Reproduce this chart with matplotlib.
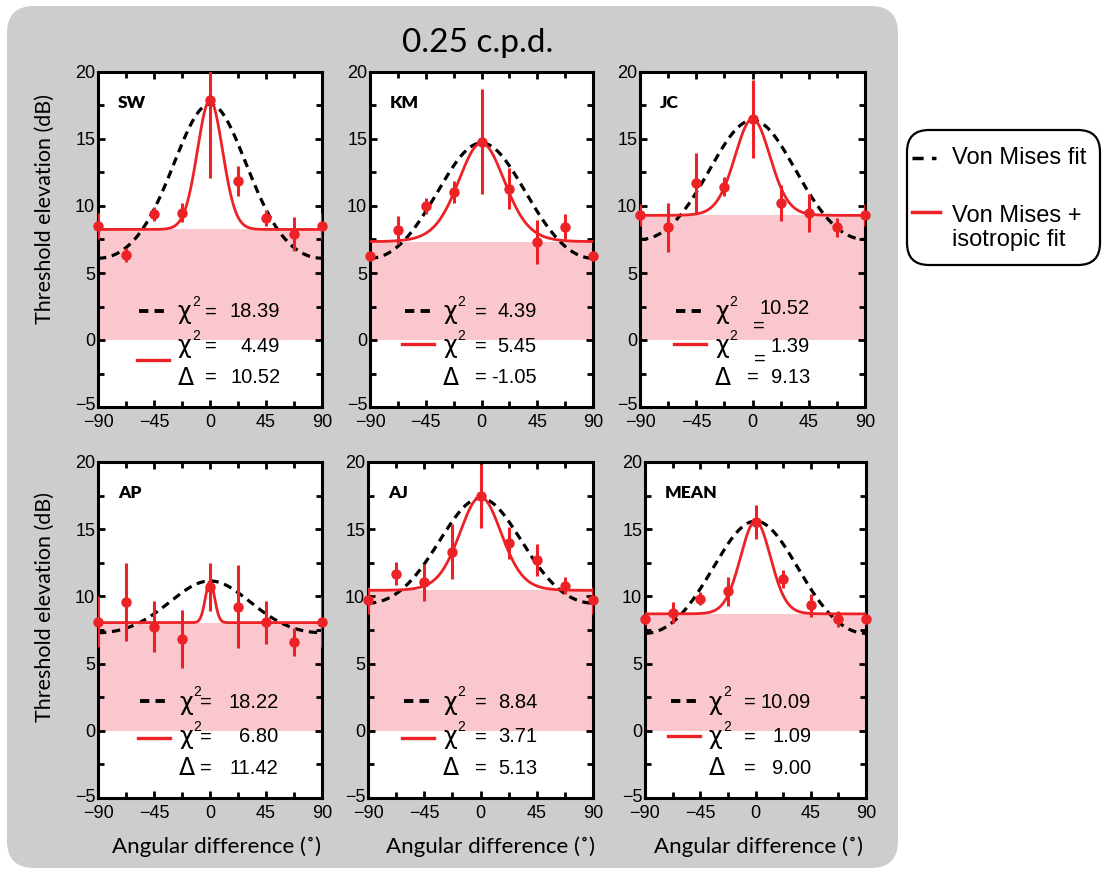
import numpy as np
import matplotlib
matplotlib.use("Agg")
import matplotlib.pyplot as plt
from matplotlib.patches import FancyBboxPatch
from matplotlib.lines import Line2D
from matplotlib.transforms import ScaledTranslation

# ---------------- data ----------------
angles = [-90, -67.5, -45, -22.5, 0, 22.5, 45, 67.5, 90]
names = ["SW", "KM", "JC", "AP", "AJ", "MEAN"]

sw_y = [8.5, 6.35, 9.4, 9.5, 17.9, 11.85, 9.1, 7.9, 8.5]
sw_err = [1.0, 0.5, 0.55, 0.7, 5.8, 1.1, 0.6, 1.25, 1.0]
km_y = [6.3, 8.2, 10.0, 11.05, 14.8, 11.3, 7.33, 8.47, 6.3]
km_err = [0.3, 1.05, 0.6, 0.85, 3.9, 1.5, 1.65, 0.9, 0.3]
jc_y = [9.33, 8.4, 11.7, 11.43, 16.47, 10.25, 9.46, 8.4, 9.33]
jc_err = [0.8, 1.8, 2.25, 0.7, 2.9, 1.35, 1.4, 0.7, 0.8]
ap_y = [8.1, 9.55, 7.75, 6.83, 10.7, 9.23, 8.07, 6.63, 8.1]
ap_err = [1.9, 2.9, 1.9, 2.15, 1.8, 3.1, 1.6, 1.05, 1.9]
aj_y = [9.7, 11.68, 11.04, 13.33, 17.48, 13.95, 12.72, 10.8, 9.7]
aj_err = [1.0, 0.85, 1.4, 2.05, 2.4, 1.2, 1.2, 0.65, 1.0]
mean_y = [8.35, 8.8, 9.83, 10.37, 15.53, 11.3, 9.34, 8.3, 8.35]
mean_err = [0.5, 0.75, 0.5, 1.05, 1.25, 0.7, 0.85, 0.6, 0.5]

values = [sw_y, km_y, jc_y, ap_y, aj_y, mean_y]
errors = [sw_err, km_err, jc_err, ap_err, aj_err, mean_err]

# von Mises fit parameters
vm_peak = [17.6, 14.7, 16.4, 11.15, 17.3, 15.6]
vm_trough = [6.1, 6.1, 7.5, 7.3, 9.5, 7.25]
vm_kappa = [0.77, 0.38, 0.43, 0.56, 0.52, 0.42]
# von Mises + isotropic fit parameters
iso_base = [8.25, 7.35, 9.3, 8.05, 10.45, 8.7]
iso_peak = [17.9, 14.7, 16.5, 11.1, 17.4, 15.6]
iso_kappa = [8.0, 2.4, 4.2, 60.0, 3.0, 5.5]

chi_vm = [18.39, 4.39, 10.52, 18.22, 8.84, 10.09]
chi_iso = [4.49, 5.45, 1.39, 6.80, 3.71, 1.09]
delta = [10.52, -1.05, 9.13, 11.42, 5.13, 9.00]

title = "0.25 c.p.d."
ylabel = "Threshold elevation (dB)"
xlabel = "Angular difference (\u02DA)"
legend_labels = ["Von Mises fit", "Von Mises +\nisotropic fit"]


def von_mises(theta, trough, peak, kappa):
    c = np.cos(2 * np.radians(theta))
    g = (np.exp(kappa * (c - 1)) - np.exp(-2 * kappa)) / (1 - np.exp(-2 * kappa))
    return trough + (peak - trough) * g


# ---------------- style ----------------
RED = "#EC2227"
PINK = "#F9C7CD"
GRAY = "#CDCDCD"
FONT = ["Liberation Sans", "DejaVu Sans"]
LFONT = ["Lato", "DejaVu Sans"]
plt.rcParams["font.family"] = FONT

W, H = 1103, 873
fig = plt.figure(figsize=(W / 100, H / 100), dpi=100)
fig.patch.set_facecolor("white")

# gray rounded background
bg = FancyBboxPatch((0.07, 0.05), 8.91, 8.62,
                    boxstyle="round,pad=0,rounding_size=0.27",
                    transform=fig.dpi_scale_trans, facecolor=GRAY,
                    edgecolor="none", zorder=-10)
fig.patches.append(bg)

# axes rectangles in pixel coords: (left, top, right, bottom)
boxes = [(98, 72, 322, 407), (370, 72, 593, 407), (640, 72, 865, 407),
         (98, 462, 322, 798), (368, 462, 593, 798), (645, 462, 866, 798)]

# legend layout per panel
chi_x = [-26, -31, -30, -25, -30, -38]
eq_x = [-4, -5, -4, -8, -4, -9]
val_end = [56.5, 44.5, 45.8, 55, 45.4, 45.4]
red_sample_y = [-1.5, -0.3, -0.3, -0.5, -0.5, -0.4]
rows_y = [2.1, -0.45, -2.8]

theta = np.linspace(-90, 90, 721)

for i, (l, t, r, b) in enumerate(boxes):
    ax = fig.add_axes([l / W, 1 - b / H, (r - l) / W, (b - t) / H])
    ax.set_xlim(-90, 90)
    ax.set_ylim(-5, 20)
    ax.axhspan(0, iso_base[i], color=PINK, lw=0, zorder=0)
    ax.plot(theta, von_mises(theta, vm_trough[i], vm_peak[i], vm_kappa[i]),
            color="black", lw=2.3, dashes=(2.6, 1.8), zorder=3)
    ax.plot(theta, von_mises(theta, iso_base[i], iso_peak[i], iso_kappa[i]),
            color=RED, lw=2.0, zorder=4)
    ax.errorbar(angles, values[i], yerr=errors[i], fmt="none", ecolor=RED,
                elinewidth=2.2, capsize=0, zorder=5)
    ax.plot(angles, values[i], "o", color=RED, ms=6.5, zorder=6,
            clip_on=False)

    ax.set_xticks([-90, -45, 0, 45, 90])
    ax.set_xticks([-67.5, -22.5, 22.5, 67.5], minor=True)
    ax.set_yticks([-5, 0, 5, 10, 15, 20])
    ax.set_yticks([-2.5, 2.5, 7.5, 12.5, 17.5], minor=True)
    ax.tick_params(which="both", direction="in", top=True, right=True,
                   width=2, labelsize=13)
    ax.tick_params(axis="x", pad=5)
    ax.tick_params(axis="y", pad=2)
    ax.tick_params(which="major", length=5)
    ax.tick_params(which="minor", length=4)
    for s in ax.spines.values():
        s.set_linewidth(2.2)
    # lift the "-5" label slightly, as in the reference
    lab = ax.get_yticklabels()[0]
    lab.set_transform(lab.get_transform() +
                      ScaledTranslation(0, 3 / 100, fig.dpi_scale_trans))

    ax.text(-74, 17.7, names[i], fontsize=12.5, fontweight="heavy",
            family=LFONT, va="center", ha="left")

    # in-panel legend
    cx = chi_x[i]
    ax.plot([cx - 31, cx - 7], [rows_y[0] + 0.1] * 2, color="black", lw=2.8,
            dashes=(2.4, 1.6))
    ax.plot([cx - 33, cx - 7], [red_sample_y[i]] * 2, color=RED, lw=2.4)
    fs = 14.5
    for k, lab in enumerate(["\u03C7", "\u03C7", "\u0394"]):
        ax.text(cx, rows_y[k], lab, fontsize=17, va="center", ha="left",
                family=["DejaVu Sans"])
        if k < 2:
            ax.text(cx + 11.5, rows_y[k] + 0.75, "2", fontsize=10,
                    va="center", ha="left")
    vals = ["%.2f" % chi_vm[i], "%.2f" % chi_iso[i], "%.2f" % delta[i]]
    for k in range(3):
        ex, ey = eq_x[i], rows_y[k]
        vy = rows_y[k]
        if names[i] == "JC" and k == 0:
            ex, ey, vy = 0.0, rows_y[k] - 1.1, rows_y[k] + 0.25
        elif names[i] == "JC" and k == 1:
            ex, ey = 1.0, rows_y[k] - 0.95
        ax.text(ex, ey, "=", fontsize=fs, va="center", ha="left")
        ax.text(val_end[i], vy, vals[k], fontsize=fs, va="center", ha="right")

# texts
fig.text(478 / W, 1 - 43 / H, title, fontsize=24, family=LFONT,
         ha="center", va="center")
for yc in (209, 607):
    fig.text(45 / W, 1 - yc / H, ylabel, fontsize=15.5, family=LFONT,
             rotation=90, ha="center", va="center")
for xc in (216, 491, 758):
    fig.text(xc / W, 1 - 847 / H, xlabel, fontsize=16, family=LFONT,
             ha="center", va="center")

# right legend box
lb = FancyBboxPatch((9.07, 6.08), 1.93, 1.35,
                    boxstyle="round,pad=0,rounding_size=0.22",
                    transform=fig.dpi_scale_trans, facecolor="white",
                    edgecolor="black", lw=1.6, zorder=5)
fig.patches.append(lb)
fig.lines.append(Line2D([912 / W, 936 / W], [1 - 158 / H] * 2,
                        transform=fig.transFigure, color="black", lw=2.5,
                        dashes=(3.2, 2.4), zorder=6))
fig.lines.append(Line2D([912 / W, 940 / W], [1 - 212 / H] * 2,
                        transform=fig.transFigure, color=RED, lw=2.5, zorder=6))
fig.text(952 / W, 1 - 158 / H, legend_labels[0], fontsize=17,
         ha="left", va="center", zorder=7)
fig.text(952 / W, 1 - 228 / H, legend_labels[1], fontsize=17,
         ha="left", va="center", linespacing=1.15, zorder=7)

fig.savefig("out.png", dpi=100)
